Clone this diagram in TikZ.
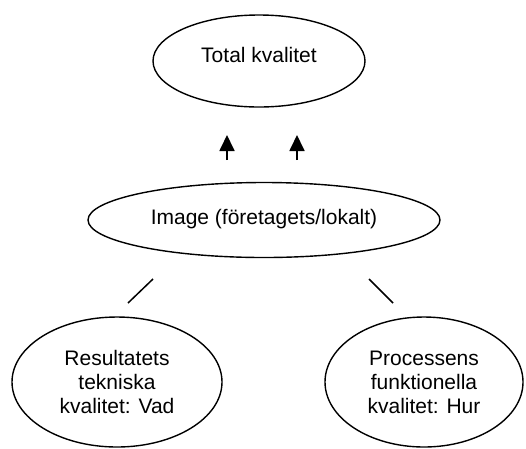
\documentclass[tikz,border=0pt]{standalone}
\usepackage{fontspec}
\setmainfont{Liberation Sans}
\usetikzlibrary{shapes.geometric, arrows.meta}

\begin{document}
\begin{tikzpicture}[
    x=1pt, y=-1pt,
    every node/.style={font=\fontsize{21}{24}\selectfont},
    oval/.style={draw, ellipse, line width=1.4pt, inner sep=0pt, align=center},
    arrow/.style={-{Triangle[length=16pt, width=15pt]}, line width=1.8pt},
    link/.style={line width=1.5pt}
]
\useasboundingbox (0,0) rectangle (526,448);

\node[oval, minimum width=212pt, minimum height=92pt] (total) at (259,61) {\raisebox{13pt}{Total kvalitet}};
\node[oval, minimum width=352pt, minimum height=75pt] (image) at (264,220) {\raisebox{7pt}{Image (företagets/lokalt)}};
\node[oval, minimum width=210pt, minimum height=130pt] (vad) at (117,382) {Resultatets\\tekniska\\kvalitet: Vad};
\node[oval, minimum width=198pt, minimum height=130pt] (hur) at (424,382) {Processens\\funktionella\\kvalitet: Hur};

% loose arrows and links
\coordinate (a1s) at (227,160);
\coordinate (a1e) at (227,135);
\coordinate (a2s) at (297,160);
\coordinate (a2e) at (297,135);
\coordinate (l1s) at (153,279);
\coordinate (l1e) at (128,303);
\coordinate (l2s) at (369,279);
\coordinate (l2e) at (393,303);

\draw[arrow] (a1s) -- (a1e);
\draw[arrow] (a2s) -- (a2e);
\draw[link] (l1s) -- (l1e);
\draw[link] (l2s) -- (l2e);
\end{tikzpicture}
\end{document}
